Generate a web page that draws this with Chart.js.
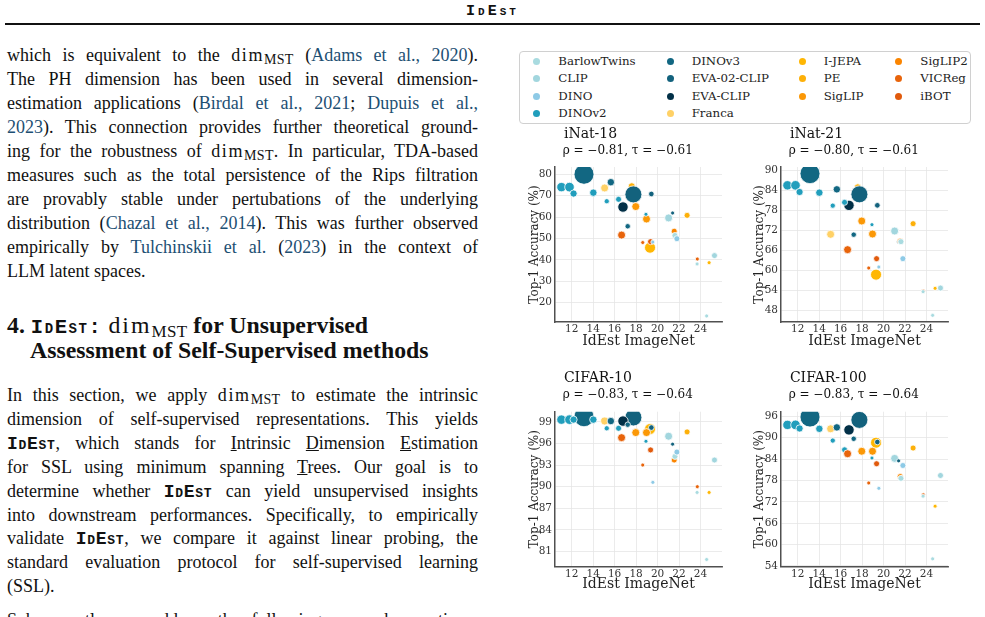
<!DOCTYPE html>
<html>
<head>
<meta charset="utf-8">
<script src="https://cdn.jsdelivr.net/npm/chart.js@4.4.1/dist/chart.umd.min.js"></script>
<style>
  html, body { margin: 0; padding: 0; background: #fff; }
  body { width: 985px; height: 617px; overflow: hidden; position: relative;
         font-family: 'Liberation Serif', 'Times New Roman', serif; color: #111; }
  .hdr { position: absolute; left: 0; width: 985px; top: 3px; text-align: center;
         font: bold 15px 'Liberation Mono', monospace; font-variant: small-caps; letter-spacing: 3px; }
  .rule { position: absolute; left: 5px; width: 975px; top: 23px; height: 2px; background: #111; }
  .ln { position: absolute; left: 7px; font-size: 18px; line-height: 24px; white-space: nowrap; }
  .ln > span { display: inline-block; }
  .c { color: #1d4f73; }
  .tt { font-family: 'Liberation Mono', monospace; font-weight: bold; font-variant: small-caps; letter-spacing: 0.7px; }
  .dim { letter-spacing: 1.6px; }
  sub { font-size: 14px; letter-spacing: 0.3px; vertical-align: -3px; line-height: 0; }
  .h { font-size: 23.8px; font-weight: bold; }
  .h .tt { font-size: 20.5px; letter-spacing: 1.6px; }
  .h .rm { font-weight: normal; }
  .h .dim { letter-spacing: 2px; }
  .h sub { font-size: 17px; font-weight: normal; vertical-align: -4px; }
  .legend { position: absolute; left: 519px; top: 51px; width: 450px; height: 71px;
            border: 1px solid #d0d0d0; border-radius: 4px; background: #fff; }
  .li { position: absolute; font: 11.8px 'DejaVu Serif', serif; color: #222; white-space: nowrap; line-height: 14px; }
  .dot { position: absolute; width: 7px; height: 7px; border-radius: 50%; }
  canvas { position: absolute; }
</style>
</head>
<body>
<div class="hdr">IdEst</div>
<div class="rule"></div>

<div class="ln j" style="top:43.2px"><span>which is equivalent to the <span class="dim">dim</span><sub>MST</sub> (<span class="c">Adams et al., 2020</span>).</span></div>
<div class="ln j" style="top:67.1px"><span>The PH dimension has been used in several dimension-</span></div>
<div class="ln j" style="top:91.1px"><span>estimation applications (<span class="c">Birdal et al., 2021</span>; <span class="c">Dupuis et al.,</span></span></div>
<div class="ln j" style="top:115px"><span><span class="c">2023</span>). This connection provides further theoretical ground-</span></div>
<div class="ln j" style="top:138.9px"><span>ing for the robustness of <span class="dim">dim</span><sub>MST</sub>. In particular, TDA-based</span></div>
<div class="ln j" style="top:162.9px"><span>measures such as the total persistence of the Rips filtration</span></div>
<div class="ln j" style="top:186.8px"><span>are provably stable under pertubations of the underlying</span></div>
<div class="ln j" style="top:210.7px"><span>distribution (<span class="c">Chazal et al., 2014</span>). This was further observed</span></div>
<div class="ln j" style="top:234.6px"><span>empirically by <span class="c">Tulchinskii et al.</span> (<span class="c">2023</span>) in the context of</span></div>
<div class="ln" style="top:258.6px"><span>LLM latent spaces.</span></div>

<div class="ln h" style="top:313.2px"><span>4. <span class="tt">IdEst:</span> <span class="rm"><span class="dim">dim</span><sub>MST</sub></span> for Unsupervised</span></div>
<div class="ln h" style="top:338.2px;left:30px"><span>Assessment of Self-Supervised methods</span></div>

<div class="ln j" style="top:383px"><span>In this section, we apply <span class="dim">dim</span><sub>MST</sub> to estimate the intrinsic</span></div>
<div class="ln j" style="top:406.9px"><span>dimension of self-supervised representations. This yields</span></div>
<div class="ln j" style="top:430.8px"><span><span class="tt">IdEst</span>, which stands for <u>I</u>ntrinsic <u>D</u>imension <u>E</u>stimation</span></div>
<div class="ln j" style="top:454.7px"><span>for SSL using minimum spanning <u>T</u>rees. Our goal is to</span></div>
<div class="ln j" style="top:478.6px"><span>determine whether <span class="tt">IdEst</span> can yield unsupervised insights</span></div>
<div class="ln j" style="top:502.5px"><span>into downstream performances. Specifically, to empirically</span></div>
<div class="ln j" style="top:526.4px"><span>validate <span class="tt">IdEst</span>, we compare it against linear probing, the</span></div>
<div class="ln j" style="top:550.3px"><span>standard evaluation protocol for self-supervised learning</span></div>
<div class="ln" style="top:574.2px"><span>(SSL).</span></div>
<div class="ln j" style="top:608px"><span>Subsequently, we address the following research questions:</span></div>

<div class="legend" id="legend"></div>

<canvas id="p1" width="235" height="240" style="left:515px;top:120px"></canvas>
<canvas id="p2" width="235" height="240" style="left:750px;top:120px"></canvas>
<canvas id="p3" width="235" height="240" style="left:515px;top:360px"></canvas>
<canvas id="p4" width="235" height="240" style="left:750px;top:360px"></canvas>

<script>
// legend families and their colours
const familyNames = ['BarlowTwins', 'CLIP', 'DINO', 'DINOv2', 'DINOv3', 'EVA-02-CLIP', 'EVA-CLIP',
  'Franca', 'I-JEPA', 'PE', 'SigLIP', 'SigLIP2', 'VICReg', 'iBOT'];
const familyColors = ['#a9dbe0', '#a2d6de', '#8ecae6', '#219ebc', '#126782', '#13627d', '#023047',
  '#ffd166', '#ffb703', '#fdb009', '#fb9806', '#fb8500', '#e8640b', '#e15a0c'];

// one entry per model, listed in drawing order
const modelFamily = ['PE', 'I-JEPA', 'DINOv3', 'EVA-02-CLIP', 'EVA-CLIP', 'DINOv2', 'DINOv2', 'DINOv2',
  'DINOv2', 'Franca', 'DINOv3', 'DINOv2', 'DINOv2', 'VICReg', 'DINOv3', 'SigLIP', 'SigLIP',
  'EVA-02-CLIP', 'DINOv2', 'iBOT', 'VICReg', 'DINO', 'CLIP', 'EVA-02-CLIP', 'SigLIP2', 'BarlowTwins',
  'DINO', 'PE', 'VICReg', 'BarlowTwins', 'I-JEPA', 'CLIP', 'BarlowTwins'];
const idestImageNet = [17.6, 19.3, 13.15, 17.75, 16.78, 11.05, 11.8, 12.18, 14.02, 15.07, 15.65, 15.27,
  16.37, 16.65, 17.22, 17.97, 18.97, 19.42, 18.92, 19.35, 18.62, 19.56, 21.03, 21.4, 21.55, 21.62, 21.8,
  22.75, 23.7, 23.68, 24.8, 25.3, 24.57];
const bubbleRadius = [3.5, 5.5, 10, 8.5, 5.2, 4.7, 4.8, 3.6, 3.7, 4, 3.7, 2.6, 3, 4, 2.7, 4, 4, 2.8, 2,
  3, 2, 2, 4, 2, 3, 3, 3, 3, 2, 2, 2, 3, 2];

const accINat18 = [74.4, 45.7, 80.0, 70.6, 64.7, 74.0, 74.0, 71.0, 71.4, 73.6, 76.3, 67.4, 68.3, 51.6,
  55.7, 64.9, 59.1, 70.8, 61.3, 48.5, 48.1, 48.3, 59.6, 61.9, 53.4, 51.4, 49.9, 60.8, 40.4, 38.1, 38.7,
  42.0, 13.8];
const accINat21 = [84.8, 58.6, 88.9, 82.7, 79.4, 85.4, 85.4, 83.4, 83.2, 70.7, 84.2, 79.3, 80.3, 66.1,
  70.6, 74.7, 70.8, 79.4, 73.6, 63.4, 60.6, 60.9, 71.7, 68.5, 68.7, 68.5, 63.4, 73.9, 53.7, 53.5, 54.5,
  54.6, 46.4];
const accCifar10 = [99.6, 98.0, 99.7, 99.6, 99.1, 99.3, 99.3, 99.3, 99.3, 99.1, 99.1, 98.1, 98.1, 96.8,
  98.6, 97.5, 97.5, 98.2, 96.3, 95.1, 93.0, 90.6, 97.0, 95.9, 93.7, 94.2, 94.8, 97.6, 90.0, 89.2, 89.2,
  93.7, 79.9];
const accCifar100 = [95.2, 88.6, 95.8, 95.0, 92.2, 93.6, 93.6, 92.6, 92.5, 92.5, 92.9, 89.2, 86.6, 85.5,
  89.7, 86.2, 86.2, 88.8, 84.3, 82.7, 77.3, 75.8, 84.2, 83.5, 79.1, 78.6, 82.2, 87.1, 74.0, 73.6, 70.8,
  79.4, 56.0];

const panelTitles = ['iNat-18', 'iNat-21', 'CIFAR-10', 'CIFAR-100'];
const panelRho = [-0.81, -0.80, -0.83, -0.83];
const panelTau = [-0.61, -0.61, -0.64, -0.64];
const xTicks = [12, 14, 16, 18, 20, 22, 24];
const yTicksINat18 = [20, 30, 40, 50, 60, 70, 80];
const yTicksINat21 = [48, 54, 60, 66, 72, 78, 84, 90];
const yTicksCifar10 = [81, 84, 87, 90, 93, 96, 99];
const yTicksCifar100 = [54, 60, 66, 72, 78, 84, 90, 96];

// justify the text lines like the typeset page
document.querySelectorAll('.j').forEach((el) => {
  const inner = el.firstElementChild;
  const w = inner.getBoundingClientRect().width;
  const spaces = (inner.textContent.match(/ /g) || []).length;
  if (spaces) inner.style.wordSpacing = ((471 - w) / spaces) + 'px';
});

// legend (matplotlib-style, column-major, 4 columns)
const legendCols = [[0, 1, 2, 3], [4, 5, 6, 7], [8, 9, 10], [11, 12, 13]];
const colDot = [16.7, 150, 282, 378.7];
const colText = [38.3, 171.7, 303.7, 400.3];
const legendEl = document.getElementById('legend');
legendCols.forEach((col, c) => {
  col.forEach((fi, r) => {
    const cy = 9.2 + r * 17.4;
    const dot = document.createElement('div');
    dot.className = 'dot';
    dot.style.left = (colDot[c] - 3.5) + 'px';
    dot.style.top = (cy - 3.5) + 'px';
    dot.style.background = familyColors[fi];
    legendEl.appendChild(dot);
    const txt = document.createElement('div');
    txt.className = 'li';
    txt.style.left = colText[c] + 'px';
    txt.style.top = (cy - 7.5) + 'px';
    txt.textContent = familyNames[fi];
    legendEl.appendChild(txt);
  });
});

const pointColors = modelFamily.map((f) => familyColors[familyNames.indexOf(f)]);
const fmt = (v) => v.toFixed(2).replace('-', '\u2212');

function makePanel(id, idx, acc, yMin, yMax, yTicks, g) {
  const tickFont = { family: 'DejaVu Serif', size: 10.5 };
  new Chart(document.getElementById(id), {
    type: 'bubble',
    data: {
      datasets: [{
        data: idestImageNet.map((x, i) => ({ x, y: acc[i], r: bubbleRadius[i] })),
        backgroundColor: pointColors,
        borderColor: '#ffffff',
        borderWidth: 0.8,
      }],
    },
    options: {
      responsive: false,
      animation: false,
      events: [],
      layout: { padding: { top: 0, left: 0, right: g.padRight, bottom: 0 } },
      plugins: {
        legend: { display: false },
        tooltip: { enabled: false },
        title: {
          display: true, text: '  ' + panelTitles[idx], align: 'start', fullSize: false, color: '#111',
          font: { family: 'DejaVu Serif', size: 14, weight: 'normal', lineHeight: 1.2 },
          padding: { top: g.titleTop, bottom: 0 },
        },
        subtitle: {
          display: true, align: 'start', fullSize: false, color: '#111',
          text: '  \u03C1 = ' + fmt(panelRho[idx]) + ', \u03C4 = ' + fmt(panelTau[idx]),
          font: { family: 'DejaVu Serif', size: 12, weight: 'normal', lineHeight: 1.2 },
          padding: { top: g.subTop, bottom: g.subBottom },
        },
      },
      scales: {
        x: {
          type: 'linear', min: 10.45, max: 26.0,
          afterBuildTicks: (ax) => { ax.ticks = xTicks.map((v) => ({ value: v })); },
          afterFit: (s) => { s.height = g.xHeight; },
          grid: { color: '#e6e6e6', lineWidth: 0.8, drawTicks: false },
          border: { display: true, color: '#505050', width: 1.5 },
          ticks: { font: tickFont, color: '#333', padding: 1, maxRotation: 0, callback: (v) => String(v) },
          title: {
            display: true, text: 'IdEst ImageNet', color: '#222',
            font: { family: 'DejaVu Serif', size: 14, lineHeight: 1.2 },
            padding: { top: 0, bottom: g.xTitleBottom },
          },
        },
        y: {
          type: 'linear', min: yMin, max: yMax,
          afterBuildTicks: (ax) => { ax.ticks = yTicks.map((v) => ({ value: v })); },
          afterFit: (s) => { s.width = g.yWidth; },
          grid: { color: '#e6e6e6', lineWidth: 0.8, drawTicks: false },
          border: { display: true, color: '#505050', width: 1.5 },
          ticks: { font: tickFont, color: '#333', padding: 3, callback: (v) => String(v) },
          title: {
            display: true, text: 'Top-1 Accuracy (%)', color: '#222',
            font: { family: 'DejaVu Serif', size: 12, lineHeight: 1.2 },
            padding: { top: g.yTitleLeft, bottom: 0 },
          },
        },
      },
    },
  });
}

const topLeft = { padRight: 28, yWidth: 40, yTitleLeft: 12.6, titleTop: 6.1, subTop: 0.9, subBottom: 8.8, xHeight: 38, xTitleBottom: 10.6 };
const topRight = { padRight: 37, yWidth: 31, yTitleLeft: 2.8, titleTop: 6.1, subTop: 0.9, subBottom: 8.8, xHeight: 38, xTitleBottom: 10.6 };
const botLeft = { padRight: 28, yWidth: 40, yTitleLeft: 12.9, titleTop: 9.6, subTop: 1.4, subBottom: 9.5, xHeight: 33.3, xTitleBottom: 7.6 };
const botRight = { padRight: 37, yWidth: 31, yTitleLeft: 2.8, titleTop: 9.6, subTop: 1.4, subBottom: 9.5, xHeight: 33.3, xTitleBottom: 7.6 };

makePanel('p1', 0, accINat18, 10.97, 83.4, yTicksINat18, topLeft);
makePanel('p2', 1, accINat21, 44.4, 90.9, yTicksINat21, topRight);
makePanel('p3', 2, accCifar10, 78.9, 100.4, yTicksCifar10, botLeft);
makePanel('p4', 3, accCifar100, 53.8, 97.3, yTicksCifar100, botRight);
</script>
</body>
</html>
